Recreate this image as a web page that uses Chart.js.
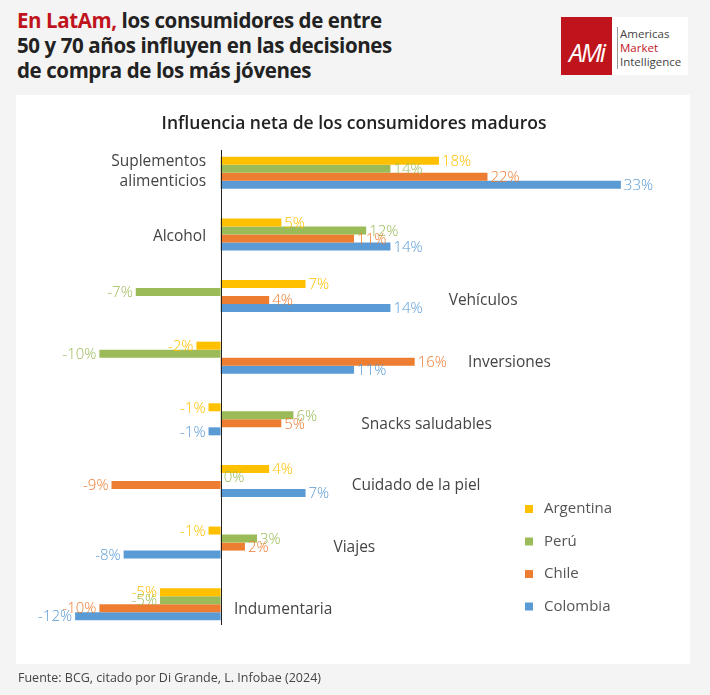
<!DOCTYPE html>
<html><head><meta charset="utf-8">
<script src="https://cdn.jsdelivr.net/npm/chart.js@4"></script>
<style>
body{margin:0;background:#f4f4f4;width:710px;height:695px;overflow:hidden;font-family:"Open Sans",Lato,sans-serif;position:relative}
#panel{position:absolute;left:16px;top:95px;width:674px;height:569px;background:#fff}
#cv{position:absolute;left:0;top:0}
.t{position:absolute;left:17px;top:8px;font-weight:700;font-size:20.5px;line-height:25px;color:#222;letter-spacing:-0.4px}
.t span{color:#c0141c}
#logo{position:absolute;left:561px;top:17px;width:127px;height:58px;background:#fff}
#logo .r{position:absolute;left:0;top:0;width:51px;height:58px;background:#c0141c;color:#fff;font-size:25px;font-style:italic;line-height:58px;text-align:center;letter-spacing:-2px;padding-top:6px;box-sizing:border-box}
#logo .x{position:absolute;left:56px;top:10px;font-size:11.5px;line-height:14px;color:#444;border-left:1px solid #999;padding-left:2px}
#foot{position:absolute;left:18px;top:669px;font-size:12.5px;color:#444}
</style></head><body>
<div class="t"><span>En LatAm,</span> los consumidores de entre<br>50 y 70 años influyen en las decisiones<br>de compra de los más jóvenes</div>
<div id="logo"><div class="r">AMi</div><div class="x">Americas<br><span style="color:#c0141c">Market</span><br>Intelligence</div></div>
<div id="panel"></div>
<canvas id="cv" width="710" height="695"></canvas>
<div id="foot">Fuente: BCG, citado por Di Grande, L. Infobae (2024)</div>
<script>
const categories=[["Suplementos","alimenticios"],"Alcohol","Vehículos","Inversiones","Snacks saludables","Cuidado de la piel","Viajes","Indumentaria"];
const argentina=[18,5,7,-2,-1,4,-1,-5];
const peru=[14,12,-7,-10,6,0,3,-5];
const chile=[22,11,4,16,5,-9,2,-10];
const colombia=[33,14,14,11,-1,7,-8,-12];
const seriesNames=["Argentina","Perú","Chile","Colombia"];
const colors=["#FFC000","#9BBB59","#ED7D31","#5B9BD5"];
// category label anchors (data units on x axis) and alignment
const labelX=[-1.2,-1.2,18.8,20.4,11.6,10.8,9.3,1.1];
const labelAlign=["right","right","left","left","left","left","left","left"];
const FONT='"Open Sans", Lato, sans-serif';
const plug={id:'deco',afterDatasetsDraw(c){
 const ctx=c.ctx,x=c.scales.x,y=c.scales.y;
 ctx.save();
 ctx.strokeStyle='#222';ctx.lineWidth=1;ctx.beginPath();ctx.moveTo(Math.round(x.getPixelForValue(0))+.5,150);ctx.lineTo(Math.round(x.getPixelForValue(0))+.5,625);ctx.stroke();
 ctx.font='300 15px '+FONT;ctx.textBaseline='middle';
 c.data.datasets.forEach((ds,di)=>{c.getDatasetMeta(di).data.forEach((b,i)=>{
   const v=ds.data[i];ctx.fillStyle=colors[di];
   if(v>=0){ctx.textAlign='left';ctx.fillText(v+'%',b.x+3,b.y+1);}else{ctx.textAlign='right';ctx.fillText(v+'%',b.x-3,b.y+1);}
 });});
 ctx.fillStyle='#444';ctx.font='400 15.5px '+FONT;
 categories.forEach((cat,i)=>{
   const px=x.getPixelForValue(labelX[i]),py=y.getPixelForValue(i);ctx.textAlign=labelAlign[i];
   if(Array.isArray(cat)){ctx.fillText(cat[0],px,py-11);ctx.fillText(cat[1],px,py+9);}else ctx.fillText(cat,px,py+(i===1?2:5));
 });
 ctx.fillStyle='#222';ctx.font='600 17.5px '+FONT;ctx.textAlign='center';ctx.fillText('Influencia neta de los consumidores maduros',354,124);
 ctx.font='400 15px '+FONT;ctx.textAlign='left';
 seriesNames.forEach((n,i)=>{const yy=509+i*32.5;ctx.fillStyle=colors[i];ctx.fillRect(525,yy-4,8,8);ctx.fillStyle='#555';ctx.fillText(n,544,yy);});
 ctx.restore();
}};
new Chart(document.getElementById('cv'),{type:'bar',
 data:{labels:categories.map(c=>Array.isArray(c)?c.join(' '):c),
  datasets:[argentina,peru,chile,colombia].map((d,i)=>({label:seriesNames[i],data:d,backgroundColor:colors[i],barPercentage:1,categoryPercentage:0.52}))},
 options:{indexAxis:'y',responsive:false,animation:false,devicePixelRatio:1,
  layout:{padding:{left:63,right:77,top:142,bottom:60}},
  plugins:{legend:{display:false},tooltip:{enabled:false}},
  scales:{x:{display:false,min:-13,max:34},y:{display:false}}},
 plugins:[plug]});
</script></body></html>
